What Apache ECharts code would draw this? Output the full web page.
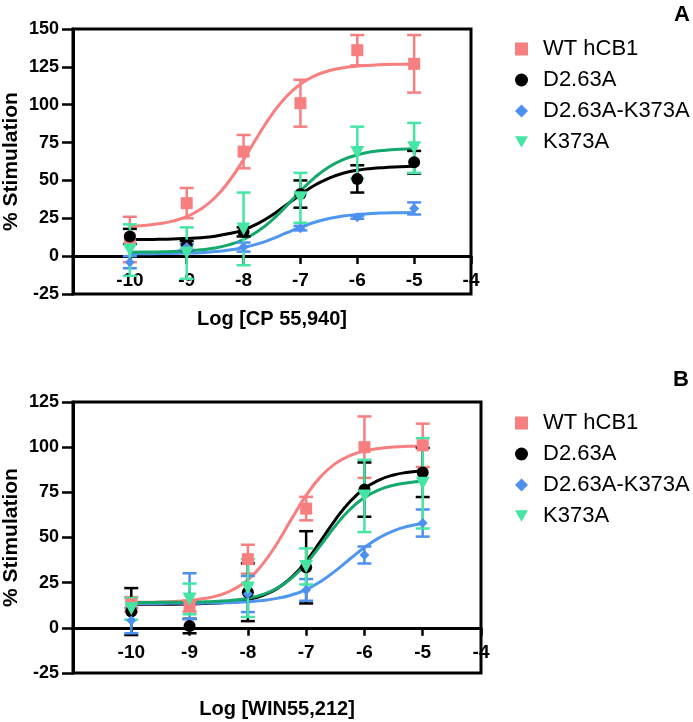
<!DOCTYPE html>
<html>
<head>
<meta charset="utf-8">
<script src="https://cdn.jsdelivr.net/npm/echarts@6/dist/echarts.min.js"></script>
<style>html,body{margin:0;padding:0;background:#fff;}#c{width:693px;height:722px;}</style>
</head>
<body>
<div id="c"></div>
<script>
// ---- data ----
const seriesNames = ['WT hCB1', 'D2.63A', 'D2.63A-K373A', 'K373A'];
const logDose = [-10, -9, -8, -7, -6, -5];
const curveX = [-10, -9.75, -9.5, -9.25, -9, -8.75, -8.5, -8.25, -8, -7.75, -7.5, -7.25, -7, -6.75, -6.5, -6.25, -6, -5.75, -5.5, -5.25, -5];
const xTicks = [-10, -9, -8, -7, -6, -5, -4];
const yTicksA = [-25, 0, 25, 50, 75, 100, 125, 150];
const yTicksB = [-25, 0, 25, 50, 75, 100, 125];

// Panel A: CP 55,940 — means and SEM
const cpWT = [11, 35, 69, 101, 136, 127];
const cpWTErr = [15, 10, 11, 15.5, 10, 19];
const cpD263A = [13, 7, 16, 41, 51, 62];
const cpD263AErr = [5, 3, 3, 9, 9, 7.5];
const cpDK = [-4, 6, 6, 18.5, 25.7, 31.5];
const cpDKErr = [4, 2, 3, 1.5, 1, 4];
const cpK373A = [4, 2, 18, 38.5, 68.5, 71.5];
const cpK373AErr = [17, 17, 24, 16.5, 17, 16.5];
// Panel A fitted curves
const cpWTFit = [19.8, 20.3, 21.4, 23.1, 26.1, 31.1, 38.7, 49.8, 63.8, 79.2, 93.6, 105.3, 113.6, 119.1, 122.4, 124.4, 125.5, 126.1, 126.5, 126.7, 126.8];
const cpD263AFit = [11.0, 11.0, 11.1, 11.3, 11.7, 12.2, 13.2, 14.9, 17.4, 21.5, 27.0, 33.8, 40.6, 46.8, 51.4, 54.7, 56.7, 57.9, 58.6, 59.1, 59.3];
const cpDKFit = [1.5, 1.6, 1.7, 1.8, 2.0, 2.3, 3.0, 4.0, 5.7, 8.1, 11.4, 15.3, 19.1, 22.4, 24.8, 26.5, 27.5, 28.2, 28.5, 28.7, 28.8];
const cpK373AFit = [2.6, 2.7, 2.8, 3.0, 3.5, 4.2, 5.4, 7.6, 11.0, 16.4, 23.8, 33.0, 42.9, 51.9, 58.9, 63.8, 66.9, 68.9, 70.0, 70.6, 71.0];

// Panel B: WIN55,212 — means and SEM
const winWT = [13, 12, 38, 66, 100, 101];
const winWTErr = [4, 3, 8, 6.5, 17, 12];
const winD263A = [9, 1, 19.7, 33.5, 76.5, 86];
const winD263AErr = [13, 4, 16, 20, 15, 13.6];
const winDK = [4, 17.5, 18.7, 21, 40.3, 58];
const winDKErr = [7, 12.7, 10, 6, 4.7, 7.5];
const winK373A = [10.5, 16, 22, 34, 73, 80];
const winK373AErr = [6, 8.5, 16, 10, 20, 25];
// Panel B fitted curves
const winWTFit = [14.1, 14.2, 14.3, 14.6, 15.2, 16.2, 18.0, 21.2, 26.6, 35.1, 46.7, 60.3, 73.3, 83.7, 90.9, 95.3, 97.9, 99.3, 100.1, 100.5, 100.7];
const winD263AFit = [13.0, 13.0, 13.1, 13.1, 13.2, 13.4, 13.8, 14.5, 15.7, 17.9, 21.7, 27.9, 36.9, 48.1, 59.8, 69.8, 77.1, 81.8, 84.6, 86.1, 87.0];
const winDKFit = [13.5, 13.5, 13.5, 13.6, 13.6, 13.7, 13.8, 14.0, 14.4, 15.1, 16.3, 18.2, 21.2, 25.7, 31.5, 38.1, 44.5, 49.8, 53.7, 56.2, 57.8];
const winK373AFit = [14.0, 14.0, 14.1, 14.1, 14.2, 14.4, 14.7, 15.3, 16.4, 18.4, 21.9, 27.5, 35.6, 45.8, 56.4, 65.5, 72.1, 76.4, 78.9, 80.3, 81.1];

// ---- styles ----
const FONT = "'Liberation Sans', Arial, sans-serif";
const markColors = ['#F77F7F', '#000000', '#4D90F0', '#45E6A4'];
const lineColors = ['#F77F7F', '#000000', '#4F97EE', '#14A96C'];
const symbols = ['rect', 'circle', 'diamond', 'path://M0,0 L10,0 L5,9 Z'];
const symbolSizes = [12, 12, 10, [14, 13]];

const panels = [
  {means: [cpWT, cpD263A, cpDK, cpK373A], errs: [cpWTErr, cpD263AErr, cpDKErr, cpK373AErr], fits: [cpWTFit, cpD263AFit, cpDKFit, cpK373AFit]},
  {means: [winWT, winD263A, winDK, winK373A], errs: [winWTErr, winD263AErr, winDKErr, winK373AErr], fits: [winWTFit, winD263AFit, winDKFit, winK373AFit]}
];

function errRender(color) {
  return function (params, api) {
    const x = api.value(0), y = api.value(1), e = api.value(2);
    const t = api.coord([x, y + e]);
    const b = api.coord([x, y - e]);
    const cw = 7;
    const st = {stroke: color, lineWidth: 2.5};
    return {type: 'group', children: [
      {type: 'line', shape: {x1: t[0], y1: t[1], x2: b[0], y2: b[1]}, style: st},
      {type: 'line', shape: {x1: t[0] - cw, y1: t[1], x2: t[0] + cw, y2: t[1]}, style: st},
      {type: 'line', shape: {x1: b[0] - cw, y1: b[1], x2: b[0] + cw, y2: b[1]}, style: st}
    ]};
  };
}

const series = [];
panels.forEach((p, pi) => {
  for (let s = 0; s < 4; s++) {
    series.push({
      type: 'scatter', name: seriesNames[s], xAxisIndex: pi, yAxisIndex: pi,
      symbol: symbols[s], symbolSize: symbolSizes[s], z: 5,
      itemStyle: {color: markColors[s], opacity: 1},
      data: logDose.map((d, i) => [d, p.means[s][i]])
    });
  }
  for (let s = 0; s < 4; s++) {
    series.push({
      type: 'line', name: seriesNames[s], xAxisIndex: pi, yAxisIndex: pi,
      smooth: true, showSymbol: false, z: 3,
      lineStyle: {color: lineColors[s], width: 3},
      itemStyle: {color: lineColors[s]},
      data: curveX.map((d, i) => [d, p.fits[s][i]])
    });
  }
  for (let s = 0; s < 4; s++) {
    series.push({
      type: 'custom', name: seriesNames[s], xAxisIndex: pi, yAxisIndex: pi, z: 4, clip: true,
      renderItem: errRender(markColors[s]),
      encode: {x: 0, y: 1},
      itemStyle: {color: markColors[s]},
      data: logDose.map((d, i) => [d, p.means[s][i], p.errs[s][i]])
    });
  }
});

// x axis drawn at y = 0 (offset up from grid bottom to the zero line)
function xAxis(gi, name, gap, off) {
  return {
    type: 'value', gridIndex: gi, min: -11, max: -4, interval: 1, position: 'bottom', offset: off,
    name: name, nameLocation: 'middle', nameGap: gap, nameMoveOverlap: false,
    nameTextStyle: {fontFamily: FONT, fontSize: 20, fontWeight: 'bold', color: '#000'},
    axisLine: {onZero: false, lineStyle: {color: '#000', width: 3}},
    axisTick: {show: true, length: 8, lineStyle: {color: '#000', width: 2.5}},
    axisLabel: {margin: 15, fontFamily: FONT, fontSize: 19, fontWeight: 'bold', color: '#000',
      formatter: v => (xTicks.indexOf(v) >= 0 ? String(v) : '')},
    splitLine: {show: false}
  };
}
function yAxis(gi, ticks) {
  return {
    type: 'value', gridIndex: gi, min: ticks[0], max: ticks[ticks.length - 1], interval: 25,
    name: '% Stimulation', nameLocation: 'middle', nameGap: 51, nameMoveOverlap: false,
    nameTextStyle: {fontFamily: FONT, fontSize: 21, fontWeight: 'bold', color: '#000'},
    axisLine: {show: true, onZero: false, lineStyle: {color: '#000', width: 3}},
    axisTick: {show: true, length: 11, lineStyle: {color: '#000', width: 2.5}},
    axisLabel: {margin: 14, fontFamily: FONT, fontSize: 18, fontWeight: 'bold', color: '#000'},
    splitLine: {show: false}
  };
}
function legend(top) {
  return {
    orient: 'vertical', left: 510, top: top, itemWidth: 13, itemHeight: 13, itemGap: 9,
    textStyle: {fontFamily: FONT, fontSize: 22, color: '#000', lineHeight: 22, padding: [0, 0, 0, 10]},
    data: seriesNames.map((n, i) => ({name: n, icon: symbols[i], itemStyle: {color: markColors[i]}}))
  };
}

const chart = echarts.init(document.getElementById('c'), null, {renderer: 'canvas'});
chart.setOption({
  backgroundColor: '#fff',
  animation: false,
  grid: [
    {left: 73, top: 29, width: 398, height: 265, outerBoundsMode: 'none', containLabel: false, show: true, borderColor: '#000', borderWidth: 3, backgroundColor: 'transparent'},
    {left: 73, top: 402, width: 408, height: 271, outerBoundsMode: 'none', containLabel: false, show: true, borderColor: '#000', borderWidth: 3, backgroundColor: 'transparent'}
  ],
  xAxis: [xAxis(0, 'Log [CP 55,940]', 53, -37.9), xAxis(1, 'Log [WIN55,212]', 72, -45.2)],
  yAxis: [yAxis(0, yTicksA), yAxis(1, yTicksB)],
  legend: [legend(33), legend(407)],
  graphic: [
    {type: 'text', left: 674, top: 4, style: {text: 'A', font: "bold 22px 'Liberation Sans', Arial", fill: '#000'}},
    {type: 'text', left: 673, top: 369, style: {text: 'B', font: "bold 22px 'Liberation Sans', Arial", fill: '#000'}}
  ],
  series: series
});
</script>
</body>
</html>
